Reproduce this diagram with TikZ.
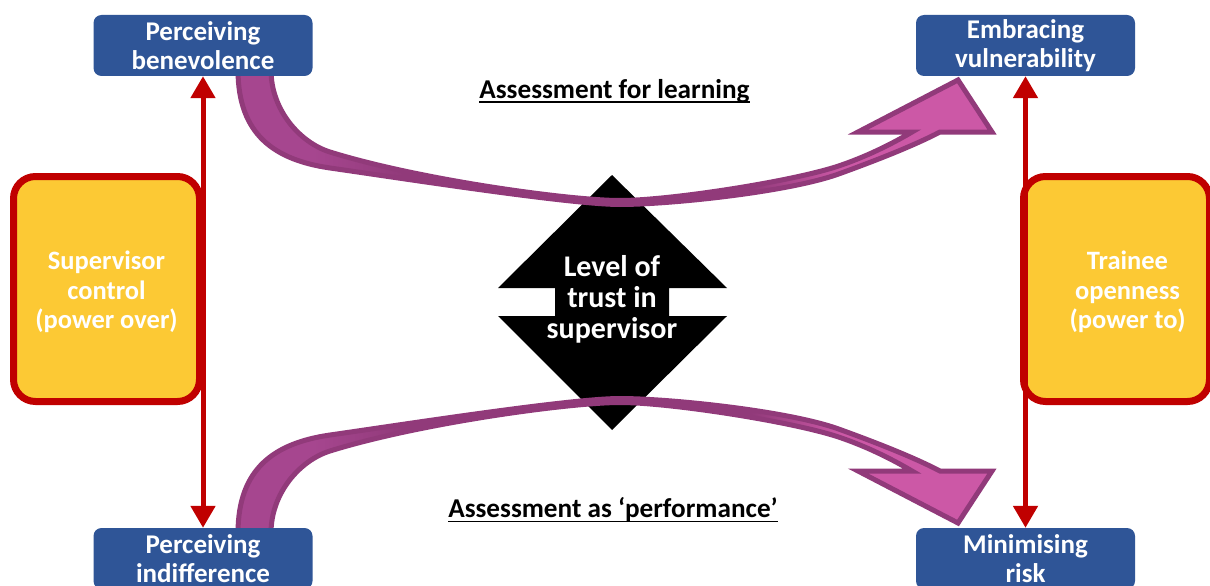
\documentclass[tikz,border=0pt]{standalone}
\usepackage{fontspec}
\setmainfont{Carlito}
\usetikzlibrary{arrows.meta}

\definecolor{boxblue}{RGB}{47,85,151}
\definecolor{boxyellow}{RGB}{252,201,52}
\definecolor{boxred}{RGB}{192,0,0}
\definecolor{bandedge}{RGB}{145,58,122}
\definecolor{bandbody}{RGB}{166,70,143}
\definecolor{bandhead}{RGB}{204,88,166}

% colour runs from the muted band at the start to the pink head
\pgfdeclarehorizontalshading{bandshade}{100bp}{color(0bp)=(bandbody); color(30bp)=(bandbody); color(36bp)=(bandedge); color(59bp)=(bandedge); color(65bp)=(bandhead); color(100bp)=(bandhead)}

% outline of a curved band with its arrow head (y grows downwards)
\newcommand\bandoutline{(238,70) .. controls (238,135) and (275,160) .. (330,168)
  .. controls (400,178) and (570,204.5) .. (620,204.5)
  .. controls (670,204.5) and (790,192) .. (840,173.5)
  .. controls (880,159) and (915,145) .. (940,132)
  -- (992,132) -- (958,80) -- (858,132) -- (912,132)
  .. controls (890,145) and (865,157) .. (840,165.5)
  .. controls (795,181) and (670,200.5) .. (620,200.5)
  .. controls (570,200.5) and (420,180) .. (330,152)
  .. controls (300,142.7) and (271,110) .. (271,70) -- cycle}

\begin{document}
\begin{tikzpicture}[x=1pt,y=-1pt,
  bluebox/.style={fill=boxblue, rounded corners=8, minimum width=219, minimum height=61,
    inner sep=0, text=white, align=center, font=\bfseries\fontsize{27}{28.5}\selectfont},
  sidebox/.style={draw=boxred, line width=7, fill=boxyellow, rounded corners=22,
    minimum width=186, minimum height=225, inner sep=0},
  sidetext/.style={text=white, align=center, inner sep=0,
    font=\bfseries\fontsize{26.5}{29.5}\selectfont},
  trusttext/.style={text=white, align=center, inner sep=0,
    font=\bfseries\fontsize{30}{31}\selectfont},
  heading/.style={inner sep=0, font=\bfseries\fontsize{27.2}{30}\selectfont},
  redarrow/.style={draw=boxred, line width=5,
    {Triangle[width=24,length=22]}-{Triangle[width=24,length=22]}},
  band/.style={shading=bandshade, draw=bandedge, line width=5, line join=miter}]

\useasboundingbox (0,0) rectangle (1210,586);
\fill[white] (0,0) rectangle (1210,586);
\clip (0,0) rectangle (1210,586);

% side panels
\node[sidebox] (sc) at (106.5,289) {};
\node[sidetext] (sc-t) at ([yshift=-3pt]sc.center) {Supervisor\\control\\(power over)};
\node[sidebox] (to) at (1116.5,289) {};
\node[sidetext] (to-t) at ([xshift=11pt,yshift=-3pt]to.center) {Trainee\\openness\\(power to)};

% central double arrow
\fill[black] (612,175) -- (727,288) -- (669,288) -- (669,316) -- (727,316)
  -- (612,430) -- (498,316) -- (555,316) -- (555,288) -- (498,288) -- cycle;

% curved bands
\shadedraw[band] \bandoutline;
\begin{scope}[shift={(0,603)}, yscale=-1]
  \shadedraw[band] \bandoutline;
\end{scope}

% corner boxes
\node[bluebox] (pb) at (203,45.5) {Perceiving\\benevolence};
\node[bluebox] (ev) at (1025.5,45.5) {Embracing\\vulnerability};
\node[bluebox] (pi) at (203,558.5) {Perceiving\\indifference};
\node[bluebox] (mr) at (1025.5,558.5) {Minimising\\risk};

% vertical double arrows
\draw[redarrow] (pb.south) -- (pi.north);
\draw[redarrow] (ev.south) -- (mr.north);

\node[trusttext] (trust) at (612,299.5) {Level of\\trust in\\supervisor};

% headings
\node[heading] (afl) at (614.5,91) {Assessment for learning};
\node[heading] (aap) at (613,510) {Assessment as ‘performance’};
\draw[line width=1.6] ([yshift=-3.5pt]afl.base west) -- ([yshift=-3.5pt]afl.base east);
\draw[line width=1.6] ([yshift=-3.5pt]aap.base west) -- ([yshift=-3.5pt]aap.base east);
\end{tikzpicture}
\end{document}
